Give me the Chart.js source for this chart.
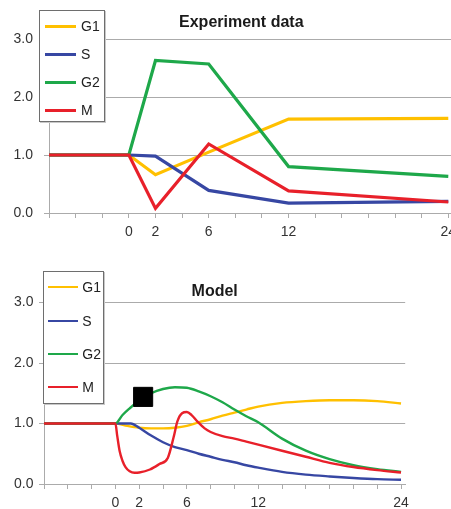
<!DOCTYPE html>
<html>
<head>
<meta charset="utf-8">
<script src="https://cdn.jsdelivr.net/npm/chart.js@4.4.1/dist/chart.umd.min.js"></script>
<style>
html,body{margin:0;padding:0;width:451px;height:509px;overflow:hidden;background:#fff;font-family:"Liberation Sans",Arial,sans-serif;}
#wrap{position:relative;width:451px;height:509px;overflow:hidden;}
canvas{position:absolute;}
.title{position:absolute;font-weight:bold;font-size:16px;line-height:20px;height:20px;color:#1a1a1a;text-align:center;width:200px;white-space:nowrap;}
.legend{position:absolute;background:#fff;border:1.5px solid #6e6e6e;box-shadow:1px 1px 0 #c8c8c8;box-sizing:border-box;}
.item{position:absolute;left:0;right:0;height:16px;line-height:16px;font-size:14px;color:#222;}
.swatch{position:absolute;}
.label{position:absolute;top:0;white-space:nowrap;}
</style>
</head>
<body>
<div id="wrap">
  <canvas id="expChart" width="480" height="250" style="left:0;top:0;"></canvas>
  <canvas id="modelChart" width="451" height="280" style="left:0;top:250px;"></canvas>
</div>
<script>
// ---------- data ----------
const seriesNames  = ['G1', 'S', 'G2', 'M'];
const seriesColors = ['#FFC000', '#3747A3', '#1EA84A', '#E8202A'];
const chartTitles  = ['Experiment data', 'Model'];

const xTickLabels = [0, 2, 6, 12, 24];
const yTickValues = [0, 1, 2, 3];

// Experiment data (hours)
const expTimes = [-6, 0, 2, 6, 12, 24];
const expG1 = [1, 1, 0.66, 1.05, 1.62, 1.63];
const expS  = [1, 1, 0.98, 0.39, 0.17, 0.20];
const expG2 = [1, 1, 2.63, 2.57, 0.80, 0.63];
const expM  = [1, 1, 0.08, 1.19, 0.38, 0.19];

// Model curves
const modelG1Times = [-6, 0, 1, 2, 3, 4, 5, 6, 7, 8, 9, 10, 11, 12, 14, 16, 18, 20, 22, 24];
const modelG1      = [1, 1, 0.96, 0.93, 0.92, 0.92, 0.93, 0.96, 1.02, 1.07, 1.13, 1.18, 1.23, 1.28, 1.34, 1.37, 1.385, 1.385, 1.37, 1.33];

const modelSTimes = [-6, 0, 1.3, 2, 3, 4, 5, 6, 7, 8, 9, 10, 11, 12, 14, 16, 18, 20, 22, 24];
const modelS      = [1, 1, 1.0, 0.93, 0.80, 0.69, 0.61, 0.56, 0.50, 0.45, 0.40, 0.36, 0.31, 0.27, 0.20, 0.155, 0.125, 0.10, 0.08, 0.07];

const modelG2Times = [-6, 0, 0.6, 1.2, 2, 3, 4, 5, 6, 7, 8, 9, 10, 11, 12, 14, 16, 18, 20, 22, 24];
const modelG2      = [1, 1, 1.14, 1.25, 1.38, 1.50, 1.57, 1.60, 1.59, 1.53, 1.45, 1.35, 1.23, 1.12, 1.02, 0.75, 0.55, 0.41, 0.31, 0.245, 0.20];

const modelMTimes = [-6, 0, 0.15, 0.35, 0.6, 0.85, 1.2, 1.6, 2, 2.9, 3.7, 4.4, 4.9, 5.2, 5.6, 6, 6.4, 6.9, 7.5, 8, 9, 10, 11, 12, 14, 16, 18, 20, 22, 24];
const modelM      = [1, 1, 0.80, 0.55, 0.38, 0.28, 0.21, 0.185, 0.19, 0.24, 0.33, 0.43, 0.78, 1.03, 1.17, 1.19, 1.14, 1.03, 0.92, 0.86, 0.79, 0.75, 0.70, 0.65, 0.55, 0.45, 0.35, 0.28, 0.23, 0.19];

const markerPoint = [2.33, 1.44];

// ---------- styling ----------
const axisColor = '#ababab';
const textColor = '#333333';
const drawOrder = [3, 2, 1, 0]; // G1 bottom ... M on top
Chart.defaults.font.family = '"Liberation Sans", Arial, sans-serif';
Chart.defaults.font.size = 14;
Chart.defaults.color = textColor;

function pts(xs, ys) { return xs.map((x, i) => ({ x: x, y: ys[i] })); }

function lineSets(timeArrs, valueArrs, width, smooth) {
  return valueArrs.map((vals, i) => ({
    label: seriesNames[i],
    data: pts(timeArrs[i], vals),
    borderColor: seriesColors[i],
    backgroundColor: seriesColors[i],
    borderWidth: width,
    pointRadius: 0,
    fill: false,
    tension: 0,
    cubicInterpolationMode: smooth ? 'monotone' : 'default',
    order: drawOrder[i]
  }));
}

function buildChart(id, datasets, p) {
  return new Chart(document.getElementById(id), {
    type: 'line',
    data: { datasets: datasets },
    options: {
      responsive: false,
      animation: false,
      devicePixelRatio: 1,
      events: [],
      layout: { padding: { left: 0, top: p.top, right: p.right, bottom: 0 } },
      plugins: { legend: { display: false }, title: { display: false }, tooltip: { enabled: false } },
      scales: {
        x: {
          type: 'linear', min: -6, max: p.xMax,
          afterFit: s => { s.height = p.xAxisH; },
          border: { display: true, color: axisColor, width: 1 },
          grid: { display: true, drawOnChartArea: false, drawTicks: true, tickLength: 5, color: axisColor },
          ticks: {
            stepSize: 2, autoSkip: false, maxRotation: 0, minRotation: 0, includeBounds: false,
            padding: p.xPad, color: textColor, font: { size: 14 },
            callback: v => xTickLabels.includes(v) ? String(v) : ''
          }
        },
        y: {
          min: yTickValues[0], max: yTickValues[yTickValues.length - 1],
          afterFit: s => { s.width = p.yAxisW; },
          border: { display: true, color: axisColor, width: 1 },
          grid: { display: true, drawTicks: true, tickLength: 5, color: axisColor },
          ticks: {
            stepSize: 1, padding: p.yPad, color: textColor, font: { size: 14 },
            callback: v => Number(v).toFixed(1)
          }
        }
      }
    }
  });
}

// Experiment chart
buildChart('expChart',
  lineSets([expTimes, expTimes, expTimes, expTimes], [expG1, expS, expG2, expM], 3.2, false),
  { top: 39, right: 18.4, xMax: 25, xAxisH: 37, yAxisW: 49, xPad: 5.5, yPad: 11 });

// Model chart
const modelSets = lineSets([modelG1Times, modelSTimes, modelG2Times, modelMTimes], [modelG1, modelS, modelG2, modelM], 2.4, true);
modelSets.push({
  label: 'marker',
  data: [{ x: markerPoint[0], y: markerPoint[1] }],
  showLine: false,
  pointStyle: 'rect',
  pointRadius: 13.5,
  backgroundColor: '#000',
  borderColor: '#000',
  borderWidth: 1,
  order: -1
});
buildChart('modelChart', modelSets,
  { top: 52.5, right: 45.8, xMax: 24.35, xAxisH: 46, yAxisW: 44, xPad: 6, yPad: 5.5 });

// ---------- legends & titles (HTML text) ----------
const wrap = document.getElementById('wrap');
function addTitle(text, cx, top) {
  const d = document.createElement('div');
  d.className = 'title';
  d.textContent = text;
  d.style.left = (cx - 100) + 'px';
  d.style.top = top + 'px';
  wrap.appendChild(d);
}
function addLegend(L) {
  const bw = 1.5;
  const box = document.createElement('div');
  box.className = 'legend';
  box.style.left = L.left + 'px';
  box.style.top = L.top + 'px';
  box.style.width = L.width + 'px';
  box.style.height = L.height + 'px';
  seriesNames.forEach((name, i) => {
    const row = document.createElement('div');
    row.className = 'item';
    row.style.top = Math.round(L.firstY + i * L.step - L.top - bw - 8) + 'px';
    const sw = document.createElement('span');
    sw.className = 'swatch';
    sw.style.left = Math.round(L.lineX - L.left - bw) + 'px';
    sw.style.width = L.lineW + 'px';
    sw.style.height = L.lw + 'px';
    sw.style.top = Math.round(8 - L.lw / 2) + 'px';
    sw.style.background = seriesColors[i];
    const tx = document.createElement('span');
    tx.className = 'label';
    tx.style.left = Math.round(L.textX - L.left - bw) + 'px';
    tx.textContent = name;
    row.appendChild(sw);
    row.appendChild(tx);
    box.appendChild(row);
  });
  wrap.appendChild(box);
}
addLegend({ left: 39, top: 10, width: 66, height: 112, firstY: 26.3, step: 28.1, lineX: 45.5, lineW: 31, textX: 81.3, lw: 3 });
addLegend({ left: 43.3, top: 270.7, width: 61, height: 133.5, firstY: 287.5, step: 33.3, lineX: 48.3, lineW: 30, textX: 82.7, lw: 2 });
addTitle(chartTitles[0], 241.3, 12.2);
addTitle(chartTitles[1], 214.7, 280.9);
</script>
</body>
</html>
